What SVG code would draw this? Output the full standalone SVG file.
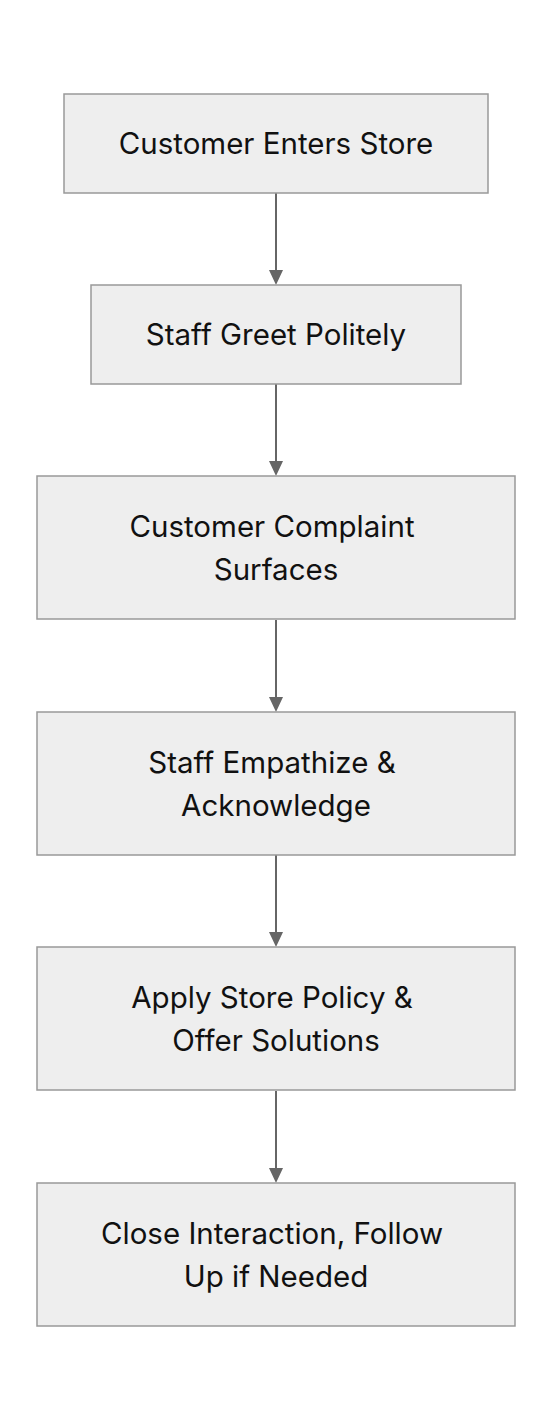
<svg xmlns="http://www.w3.org/2000/svg" width="552" height="1420" viewBox="0 0 552 1420">
<style>
.box{fill:#eeeeee;stroke:#999999;stroke-width:1.5}
.t{font-family:Inter,"Liberation Sans",sans-serif;font-size:29.5px;fill:#111111;text-anchor:middle}
.edge{stroke:#666666;stroke-width:2;fill:none}
.head{fill:#666666}
</style>
<rect width="552" height="1420" fill="#ffffff"/>
<g id="edges">
<path class="edge" d="M276,193 V270"/><path class="head" d="M269,270 L283,270 L276,285 z"/>
<path class="edge" d="M276,384 V461"/><path class="head" d="M269,461 L283,461 L276,476 z"/>
<path class="edge" d="M276,620 V697"/><path class="head" d="M269,697 L283,697 L276,712 z"/>
<path class="edge" d="M276,855 V932"/><path class="head" d="M269,932 L283,932 L276,947 z"/>
<path class="edge" d="M276,1091 V1168"/><path class="head" d="M269,1168 L283,1168 L276,1183 z"/>
</g>
<g id="n1"><rect class="box" x="64" y="94" width="424" height="99"/><text class="t" x="276" y="154">Customer Enters Store</text></g>
<g id="n2"><rect class="box" x="91" y="285" width="370" height="99"/><text class="t" x="276" y="345">Staff Greet Politely</text></g>
<g id="n3"><rect class="box" x="37" y="476" width="478" height="143"/><text class="t" x="272" y="537">Customer Complaint</text><text class="t" x="276" y="580">Surfaces</text></g>
<g id="n4"><rect class="box" x="37" y="712" width="478" height="143"/><text class="t" x="272" y="773">Staff Empathize &amp;</text><text class="t" x="276" y="816">Acknowledge</text></g>
<g id="n5"><rect class="box" x="37" y="947" width="478" height="143"/><text class="t" x="272" y="1008">Apply Store Policy &amp;</text><text class="t" x="276" y="1051">Offer Solutions</text></g>
<g id="n6"><rect class="box" x="37" y="1183" width="478" height="143"/><text class="t" x="272" y="1244">Close Interaction, Follow</text><text class="t" x="276" y="1287">Up if Needed</text></g>
</svg>
